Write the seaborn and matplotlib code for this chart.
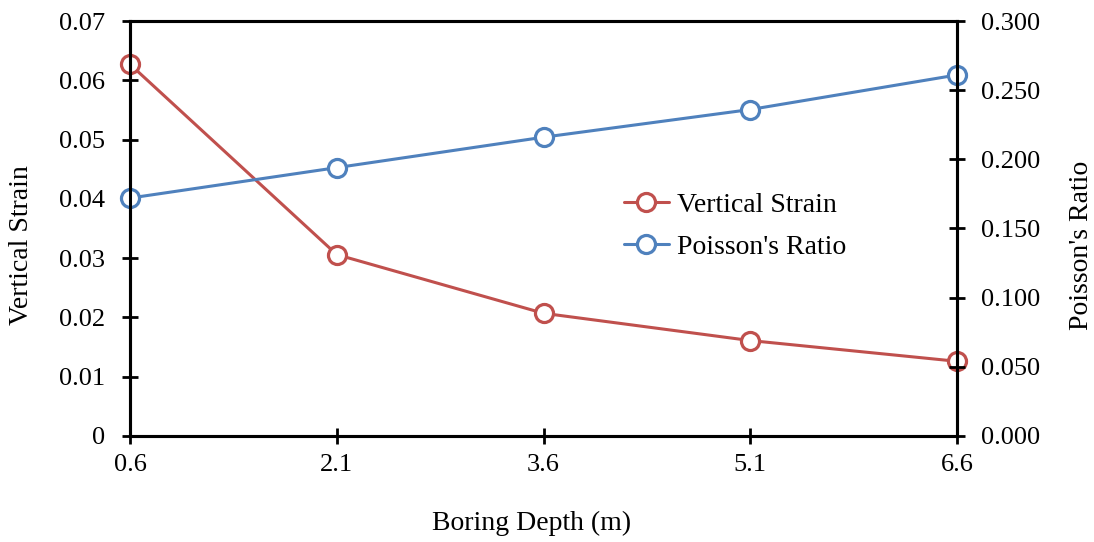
import matplotlib
matplotlib.use("Agg")
import matplotlib.pyplot as plt
import seaborn as sns
import pandas as pd

depths = [0.6, 2.1, 3.6, 5.1, 6.6]
vertical_strain = [0.0627, 0.0306, 0.0207, 0.0161, 0.0126]
poisson_ratio = [0.172, 0.194, 0.216, 0.236, 0.261]
depth_labels = ["0.6", "2.1", "3.6", "5.1", "6.6"]
left_ticks = [0, 0.01, 0.02, 0.03, 0.04, 0.05, 0.06, 0.07]
left_tick_labels = ["0", "0.01", "0.02", "0.03", "0.04", "0.05", "0.06", "0.07"]
right_ticks = [0.0, 0.05, 0.10, 0.15, 0.20, 0.25, 0.30]
right_tick_labels = ["0.000", "0.050", "0.100", "0.150", "0.200", "0.250", "0.300"]

sns.set_theme(style="white")
plt.rcParams["font.family"] = ["Liberation Serif", "DejaVu Serif"]
plt.rcParams["font.size"] = 19
plt.rcParams["text.color"] = "black"
plt.rcParams["xtick.color"] = "black"
plt.rcParams["ytick.color"] = "black"
plt.rcParams["axes.labelcolor"] = "black"

RED = "#C0504D"
BLUE = "#4F81BD"

df = pd.DataFrame({"depth": depths, "strain": vertical_strain, "poisson": poisson_ratio})

W, H = 1094, 542
fig = plt.figure(figsize=(W / 100, H / 100), dpi=100)
ax = fig.add_axes([130 / W, (H - 436) / H, 827 / W, 415 / H])
ax2 = ax.twinx()

marker_kw = dict(marker="o", markersize=13, markerfacecolor="white",
                 markeredgewidth=2.3, linewidth=2.2, clip_on=False)
sns.lineplot(data=df, x="depth", y="strain", ax=ax, color=RED,
             markeredgecolor=RED, label="Vertical Strain", legend=False, **marker_kw)
sns.lineplot(data=df, x="depth", y="poisson", ax=ax2, color=BLUE,
             markeredgecolor=BLUE, label="Poisson's Ratio", legend=False, **marker_kw)

ax.set_xlim(0.6, 6.6)
ax.set_ylim(0, 0.07)
ax2.set_ylim(0, 0.30)
ax.set_xticks(depths)
ax.set_xticklabels(depth_labels)
ax.set_yticks(left_ticks)
ax.set_yticklabels(left_tick_labels)
ax2.set_yticks(right_ticks)
ax2.set_yticklabels(right_tick_labels)

for a in (ax, ax2):
    for s in a.spines.values():
        s.set_color("black")
        s.set_linewidth(2.2)
        s.set_visible(True)

ax.tick_params(axis="y", which="major", direction="inout", length=12, width=2,
               color="black", labelcolor="black", pad=12, labelsize=19,
               left=True, right=False)
ax.tick_params(axis="x", which="major", direction="inout", length=12, width=2,
               color="black", labelcolor="black", pad=7, labelsize=19,
               bottom=True, top=False)
ax2.tick_params(axis="y", which="major", direction="inout", length=12, width=2,
                color="black", labelcolor="black", pad=11, labelsize=19,
                right=True, left=False)

ax.set_xlabel("")
ax.set_ylabel("")
ax2.set_ylabel("")
fig.text(532 / W, 1 - 523 / H, "Boring Depth (m)", ha="center", va="center",
         fontsize=20, color="black")
fig.text(22 / W, 1 - 245 / H, "Vertical Strain", ha="center", va="center",
         rotation=90, fontsize=20, color="black")
fig.text(1081 / W, 1 - 245 / H, "Poisson's Ratio", ha="center", va="center",
         rotation=90, fontsize=20, color="black")

h1, l1 = ax.get_legend_handles_labels()
h2, l2 = ax2.get_legend_handles_labels()
leg = ax2.legend(h1 + h2, l1 + l2, loc="center left", bbox_to_anchor=(0.584, 0.506),
                 frameon=False, fontsize=20, handlelength=1.6, handletextpad=0.3,
                 labelspacing=0.6, borderaxespad=0)
for t in leg.get_texts():
    t.set_color("black")

ax.grid(False)
ax2.grid(False)

fig.savefig("out.png", dpi=100)
